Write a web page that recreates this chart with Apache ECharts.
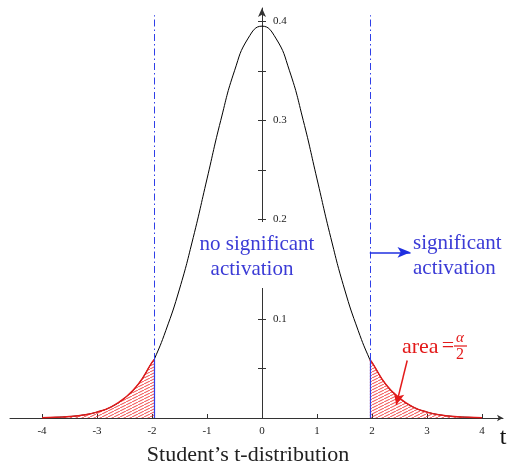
<!DOCTYPE html>
<html>
<head>
<meta charset="utf-8">
<script src="https://cdn.jsdelivr.net/npm/echarts@6/dist/echarts.min.js"></script>
<style>
  html, body { margin: 0; padding: 0; background: #fff; }
  #chart { width: 508px; height: 464px; }
</style>
</head>
<body>
<div id="chart"></div>
<script>
// Student's t density, sampled along t
const tValues = [-4, -3.75, -3.5, -3.25, -3, -2.75, -2.5, -2.25, -2, -1.96, -1.75, -1.5, -1.25, -1, -0.75, -0.5, -0.25,
                 0, 0.25, 0.5, 0.75, 1, 1.25, 1.5, 1.75, 1.96, 2, 2.25, 2.5, 2.75, 3, 3.25, 3.5, 3.75, 4];
const density = [0.0003, 0.0007, 0.0015, 0.003, 0.006, 0.011, 0.020, 0.034, 0.056, 0.059, 0.088, 0.130, 0.182, 0.241, 0.300, 0.350, 0.383,
                 0.395, 0.383, 0.350, 0.300, 0.241, 0.182, 0.130, 0.088, 0.059, 0.056, 0.034, 0.020, 0.011, 0.006, 0.003, 0.0015, 0.0007, 0.0003];

// critical value of the two-sided test
const tCrit = 1.96;

// axis ticks and labels
const xTickValues = [-4, -3, -2, -1, 0, 1, 2, 3, 4];
const yTickValues = [0.05, 0.1, 0.15, 0.2, 0.25, 0.3, 0.35, 0.4];
const yLabelValues = [0.1, 0.2, 0.3, 0.4];

const curve = tValues.map((t, i) => [t, density[i]]);
const leftTail = curve.filter(p => p[0] <= -tCrit);
const rightTail = curve.filter(p => p[0] >= tCrit);
const critHeight = density[tValues.indexOf(tCrit)];

// diagonal red hatching for the rejection regions
function hatchPattern() {
  const w = 6, h = 3;
  const c = document.createElement('canvas');
  c.width = w; c.height = h;
  const g = c.getContext('2d');
  g.strokeStyle = 'rgba(238,40,40,0.85)';
  g.lineWidth = 1;
  g.beginPath();
  g.moveTo(-2, h + 1); g.lineTo(w + 2, -1);
  g.stroke();
  return { image: c, repeat: 'repeat' };
}

const serif = '"Liberation Serif", "DejaVu Serif", serif';
const blue = '#3b3bd6';
const red = '#e31a1a';

// the y axis sits on t = 0, i.e. this many pixels right of the grid's left edge
const yAxisShift = -252;

const chart = echarts.init(document.getElementById('chart'), null, { renderer: 'canvas' });

chart.setOption({
  animation: false,
  backgroundColor: '#fff',
  grid: { left: 10, right: 5, top: 8, bottom: 46, containLabel: false },
  xAxis: {
    type: 'value',
    min: -4.582, max: 4.382,
    splitLine: { show: false },
    axisLine: { onZero: true, lineStyle: { color: '#333', width: 1 }, symbol: ['none', 'arrow'], symbolSize: [5, 6] },
    axisTick: { inside: true, length: 4, customValues: xTickValues, lineStyle: { color: '#333' } },
    axisLabel: { customValues: xTickValues, margin: 8, fontFamily: serif, fontSize: 11, color: '#222' }
  },
  yAxis: [
    {
      type: 'value',
      min: 0, max: 0.4133,
      position: 'left',
      offset: yAxisShift,
      splitLine: { show: false },
      axisLine: { onZero: false, lineStyle: { color: '#333', width: 1 }, symbol: ['none', 'arrow'], symbolSize: [6, 9] },
      axisTick: { inside: true, length: 4, customValues: yTickValues, lineStyle: { color: '#333' } },
      axisLabel: { inside: true, customValues: yLabelValues, margin: 11, fontFamily: serif, fontSize: 11, color: '#222',
                   formatter: v => v.toFixed(1) }
    },
    {
      type: 'value',
      min: 0, max: 0.4133,
      position: 'left',
      offset: yAxisShift,
      splitLine: { show: false },
      axisLine: { show: false, onZero: false },
      axisTick: { inside: false, length: 4, customValues: yTickValues, lineStyle: { color: '#333' } },
      axisLabel: { show: false }
    }
  ],
  series: [
    {
      name: 'density',
      type: 'line',
      data: curve,
      smooth: true,
      symbol: 'none',
      lineStyle: { color: '#000', width: 1 },
      z: 3,
      markLine: {
        silent: true,
        symbol: 'none',
        label: { show: false },
        lineStyle: { color: '#2f3fe8', width: 1, type: [7, 3, 1.5, 3] },
        data: [
          [{ coord: [-tCrit, 0] }, { coord: [-tCrit, 0.406] }],
          [{ coord: [tCrit, 0] }, { coord: [tCrit, 0.406] }]
        ]
      }
    },
    {
      name: 'left tail',
      type: 'line',
      data: leftTail,
      smooth: true,
      symbol: 'none',
      lineStyle: { color: red, width: 1.4 },
      areaStyle: { color: hatchPattern(), opacity: 1 },
      z: 4
    },
    {
      name: 'right tail',
      type: 'line',
      data: rightTail,
      smooth: true,
      symbol: 'none',
      lineStyle: { color: red, width: 1.4 },
      areaStyle: { color: hatchPattern(), opacity: 1 },
      z: 4,
      markLine: {
        silent: true,
        label: { show: false },
        data: [
          [{ coord: [tCrit, 0.167], symbol: 'none', lineStyle: { color: '#1f2fe0', width: 1.5, type: 'solid' } },
           { coord: [2.70, 0.167], symbol: 'arrow', symbolSize: [8, 13] }],
          [{ coord: [2.64, 0.058], symbol: 'none', lineStyle: { color: red, width: 1.5, type: 'solid' } },
           { coord: [2.44, 0.013], symbol: 'arrow', symbolSize: [8, 12] }]
        ]
      }
    },
    {
      // vertical edges of the shaded tails at the critical value
      name: 'tail edges',
      type: 'line',
      symbol: 'none',
      data: [],
      markLine: {
        silent: true,
        symbol: 'none',
        label: { show: false },
        lineStyle: { color: '#2f3fe8', width: 1.2, type: 'solid' },
        data: [
          [{ coord: [-tCrit, 0] }, { coord: [-tCrit, critHeight] }],
          [{ coord: [tCrit, 0] }, { coord: [tCrit, critHeight] }]
        ]
      },
      z: 5
    }
  ],
  graphic: [
    { type: 'rect', shape: { x: 200, y: 222, width: 116, height: 66 }, style: { fill: '#fff' }, z: 1 },
    { type: 'text', z: 10, style: { text: 'no significant', x: 257, y: 244, textAlign: 'center', textVerticalAlign: 'middle', font: '21px ' + serif, fill: blue } },
    { type: 'text', z: 10, style: { text: 'activation', x: 252, y: 269, textAlign: 'center', textVerticalAlign: 'middle', font: '21px ' + serif, fill: blue } },
    { type: 'text', z: 10, style: { text: 'significant', x: 413, y: 243, textAlign: 'left', textVerticalAlign: 'middle', font: '21px ' + serif, fill: blue } },
    { type: 'text', z: 10, style: { text: 'activation', x: 413, y: 268, textAlign: 'left', textVerticalAlign: 'middle', font: '21px ' + serif, fill: blue } },
    { type: 'text', z: 10, style: { text: 'area', x: 402, y: 347, textAlign: 'left', textVerticalAlign: 'middle', font: '22px ' + serif, fill: red } },
    { type: 'text', z: 10, style: { text: '=', x: 448, y: 346, textAlign: 'center', textVerticalAlign: 'middle', font: '22px ' + serif, fill: red } },
    { type: 'text', z: 10, style: { text: 'α', x: 460, y: 338, textAlign: 'center', textVerticalAlign: 'middle', font: 'italic 15px ' + serif, fill: red } },
    { type: 'line', z: 10, shape: { x1: 454, y1: 346, x2: 467, y2: 346 }, style: { stroke: red, lineWidth: 1.2 } },
    { type: 'text', z: 10, style: { text: '2', x: 460, y: 355, textAlign: 'center', textVerticalAlign: 'middle', font: '16px ' + serif, fill: red } },
    { type: 'text', z: 10, style: { text: 't', x: 503, y: 438, textAlign: 'center', textVerticalAlign: 'middle', font: '24px ' + serif, fill: '#111' } },
    { type: 'text', z: 10, style: { text: 'Student’s t-distribution', x: 248, y: 455, textAlign: 'center', textVerticalAlign: 'middle', font: '22px ' + serif, fill: '#222' } }
  ]
});
</script>
</body>
</html>
